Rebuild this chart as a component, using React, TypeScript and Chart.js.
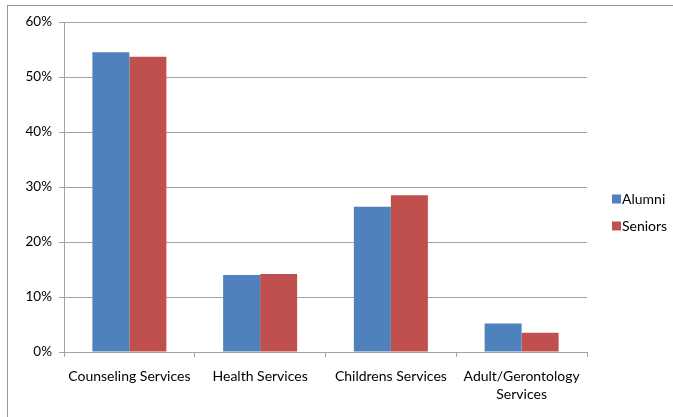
import React, { useEffect, useRef } from "react";
import { Chart, registerables } from "chart.js";

Chart.register(...registerables);

const categories: (string | string[])[] = [
  "Counseling Services",
  "Health Services",
  "Childrens Services",
  ["Adult/Gerontology", "Services"],
];
const seriesNames = ["Alumni", "Seniors"];
const alumniValues = [0.545, 0.14, 0.264, 0.052];
const seniorsValues = [0.537, 0.142, 0.285, 0.035];
const seriesColors = ["#4F81BD", "#C0504D"];
const yMin = 0;
const yMax = 0.6;
const yStep = 0.1;

const FONT = "Lato, 'Open Sans', sans-serif";
const GRID = "#a3a3a3";

const sideLegend = {
  id: "sideLegend",
  afterDraw(chart: any) {
    const ctx = chart.ctx as CanvasRenderingContext2D;
    const area = chart.chartArea;
    ctx.save();
    ctx.font = `14px ${FONT}`;
    ctx.textBaseline = "middle";
    ctx.textAlign = "left";
    chart.data.datasets.forEach((ds: any, i: number) => {
      const x = area.right + 25;
      const y = (area.top + area.bottom) / 2 + 12 + i * 27;
      ctx.fillStyle = ds.backgroundColor;
      ctx.fillRect(x, y - 4.5, 9, 9);
      ctx.fillStyle = "#000";
      ctx.fillText(ds.label, x + 10, y);
    });
    ctx.restore();
  },
};

export default function App() {
  const ref = useRef<HTMLCanvasElement | null>(null);

  useEffect(() => {
    if (!ref.current) return;
    const chart = new Chart(ref.current, {
      type: "bar",
      data: {
        labels: categories as any,
        datasets: [
          {
            label: seriesNames[0],
            data: alumniValues,
            backgroundColor: seriesColors[0],
            categoryPercentage: 0.566,
            barPercentage: 1,
          },
          {
            label: seriesNames[1],
            data: seniorsValues,
            backgroundColor: seriesColors[1],
            categoryPercentage: 0.566,
            barPercentage: 1,
          },
        ],
      },
      options: {
        responsive: false,
        animation: false,
        events: [],
        layout: { padding: { top: 22, right: 86, bottom: 0, left: 0 } },
        plugins: {
          legend: { display: false },
          tooltip: { enabled: false },
        },
        scales: {
          x: {
            offset: true,
            grid: {
              offset: true,
              drawOnChartArea: false,
              drawTicks: true,
              tickLength: 5,
              color: GRID,
            },
            border: { color: GRID, width: 1 },
            ticks: {
              color: "#000",
              font: { family: FONT, size: 14, lineHeight: 1.3 },
              padding: 10,
              maxRotation: 0,
              autoSkip: false,
            },
            afterFit(scale: any) {
              scale.height = 65;
            },
          },
          y: {
            min: yMin,
            max: yMax,
            grid: {
              color: GRID,
              drawTicks: true,
              tickLength: 5,
            },
            border: { color: GRID, width: 1 },
            ticks: {
              stepSize: yStep,
              color: "#000",
              font: { family: FONT, size: 13.5 },
              padding: 7,
              callback: (v: any) => `${Math.round(Number(v) * 100)}%`,
            },
            afterFit(scale: any) {
              scale.width = 64;
            },
          },
        },
      },
      plugins: [sideLegend],
    });
    return () => chart.destroy();
  }, []);

  return (
    <div
      style={{
        position: "fixed",
        left: 0,
        top: 0,
        width: 673,
        height: 417,
        overflow: "hidden",
        background: "#fff",
      }}
    >
      <div
        style={{
          position: "absolute",
          left: 7,
          top: 5,
          width: 700,
          height: 440,
          border: "1px solid #999",
        }}
      />
      <canvas
        ref={ref}
        width={673}
        height={417}
        style={{ position: "absolute", left: 0, top: 0, width: 673, height: 417 }}
      />
    </div>
  );
}
